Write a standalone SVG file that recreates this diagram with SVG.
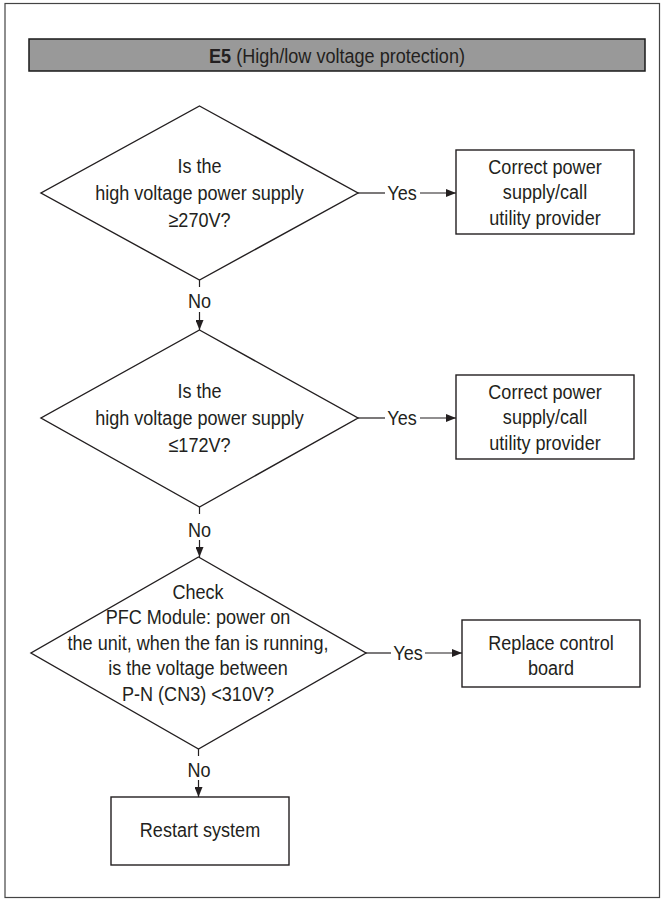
<svg xmlns="http://www.w3.org/2000/svg" width="662" height="901" viewBox="0 0 662 901">
<defs>
<marker id="ah" markerWidth="10" markerHeight="8" refX="10" refY="4" orient="auto" markerUnits="userSpaceOnUse"><path d="M0,0 L10,4 L0,8 Z" fill="#231f20"/></marker>
</defs>
<style>
.t{font-family:"Liberation Sans",Arial,sans-serif;font-size:21px;fill:#231f20;text-anchor:middle}
.s{fill:#fff;stroke:#231f20;stroke-width:1.4}
.c{fill:none;stroke:#231f20;stroke-width:1.2}
</style>
<rect x="0" y="0" width="662" height="901" fill="#fff"/>
<rect x="5" y="3.5" width="654.5" height="894" fill="none" stroke="#444" stroke-width="1.2"/>
<g id="header">
<rect x="29" y="39" width="616" height="32" fill="#999" stroke="#1a1a1a" stroke-width="1.5"/>
<text class="t" transform="translate(337 0) scale(0.86 1)" x="0" y="63"><tspan font-weight="bold">E5</tspan> (High/low voltage protection)</text>
</g>
<g id="connectors">
<path class="c" d="M358,193 H385"/>
<path class="c" d="M420,193 H456" marker-end="url(#ah)"/>
<path class="c" d="M199.5,280 V287"/>
<path class="c" d="M199.5,312 V330" marker-end="url(#ah)"/>
<path class="c" d="M358,418 H385"/>
<path class="c" d="M420,418 H456" marker-end="url(#ah)"/>
<path class="c" d="M199.5,507 V514"/>
<path class="c" d="M199.5,540 V557" marker-end="url(#ah)"/>
<path class="c" d="M366,653 H391"/>
<path class="c" d="M425,653 H462" marker-end="url(#ah)"/>
<path class="c" d="M198.5,749 V756"/>
<path class="c" d="M198.5,780 V797" marker-end="url(#ah)"/>
<text class="t" transform="translate(402 0) scale(0.86 1)" x="0" y="200.5">Yes</text>
<text class="t" transform="translate(402 0) scale(0.86 1)" x="0" y="425.5">Yes</text>
<text class="t" transform="translate(408 0) scale(0.86 1)" x="0" y="660.5">Yes</text>
<text class="t" transform="translate(199.5 0) scale(0.86 1)" x="0" y="308">No</text>
<text class="t" transform="translate(199.5 0) scale(0.86 1)" x="0" y="537">No</text>
<text class="t" transform="translate(199 0) scale(0.86 1)" x="0" y="777">No</text>
</g>
<g id="d1">
<polygon class="s" points="199.5,106 358,193 199.5,280 41,193"/>
<text class="t" transform="translate(199.5 0) scale(0.86 1)"><tspan x="0" y="173.5">Is the</tspan><tspan x="0" y="200.5">high voltage power supply</tspan><tspan x="0" y="227.5">≥270V?</tspan></text>
</g>
<g id="b1">
<rect class="s" x="456" y="150" width="178" height="84"/>
<text class="t" transform="translate(545 0) scale(0.86 1)"><tspan x="0" y="174">Correct power</tspan><tspan x="0" y="199.5">supply/call</tspan><tspan x="0" y="225">utility provider</tspan></text>
</g>
<g id="d2">
<polygon class="s" points="199.5,330 358,418 199.5,507 41,418"/>
<text class="t" transform="translate(199.5 0) scale(0.86 1)"><tspan x="0" y="398.5">Is the</tspan><tspan x="0" y="425.5">high voltage power supply</tspan><tspan x="0" y="452.5">≤172V?</tspan></text>
</g>
<g id="b2">
<rect class="s" x="456" y="375" width="178" height="84"/>
<text class="t" transform="translate(545 0) scale(0.86 1)"><tspan x="0" y="399">Correct power</tspan><tspan x="0" y="424.5">supply/call</tspan><tspan x="0" y="450">utility provider</tspan></text>
</g>
<g id="d3">
<polygon class="s" points="198.5,557 366,653 198.5,749 31,653"/>
<text class="t" transform="translate(198 0) scale(0.86 1)"><tspan x="0" y="599">Check</tspan><tspan x="0" y="624.5">PFC Module: power on</tspan><tspan x="0" y="650">the unit, when the fan is running,</tspan><tspan x="0" y="675.5">is the voltage between</tspan><tspan x="0" y="701">P-N (CN3) &lt;310V?</tspan></text>
</g>
<g id="b3">
<rect class="s" x="462" y="620" width="178" height="67"/>
<text class="t" transform="translate(551 0) scale(0.86 1)"><tspan x="0" y="650">Replace control</tspan><tspan x="0" y="675.5">board</tspan></text>
</g>
<g id="b4">
<rect class="s" x="111" y="797" width="178" height="68"/>
<text class="t" transform="translate(200 0) scale(0.86 1)" x="0" y="837">Restart system</text>
</g>
</svg>
